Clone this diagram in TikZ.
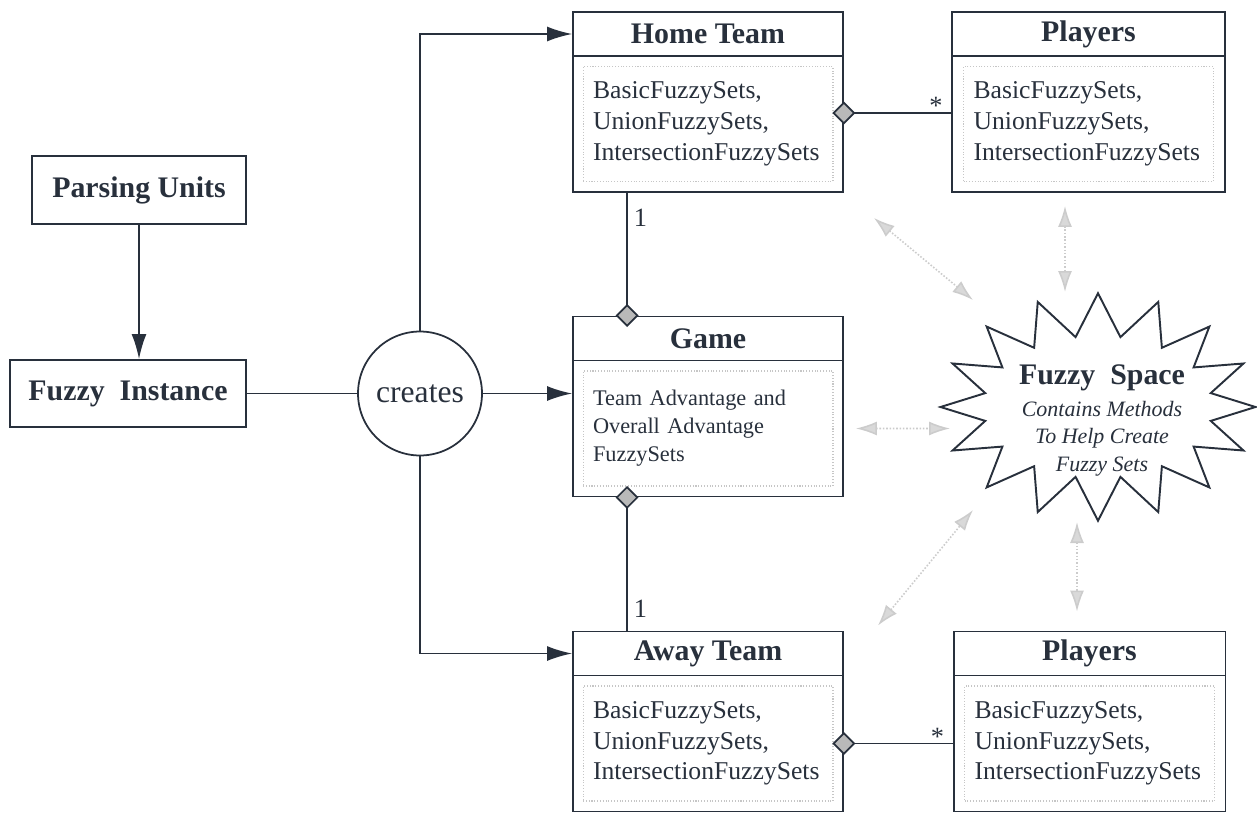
\documentclass[tikz,border=0pt]{standalone}
\usepackage{fontspec}
\setmainfont{Liberation Serif}
\usetikzlibrary{arrows.meta,positioning,shapes.symbols}
\definecolor{ink}{RGB}{40,48,60}

\tikzset{
  conn/.style={draw=ink, line width=1pt},
  flow/.style={conn, -{Latex[length=0.5cm,width=0.3cm]}},
  aggr/.style={conn, {Diamond[length=0.46cm,width=0.46cm,fill=gray!55]}-, shorten <=-0.23cm},
  aggrend/.style={conn, -{Diamond[length=0.46cm,width=0.46cm,fill=gray!55]}, shorten >=-0.23cm},
  fuzzylink/.style={draw=gray!40, line width=0.9pt, densely dotted,
    {Latex[length=0.42cm,width=0.28cm,fill=gray!30]}-{Latex[length=0.42cm,width=0.28cm,fill=gray!30]}},
  unitbox/.style={shape=rectangle, draw=ink, line width=1.1pt, text=ink, font=\bfseries\fontsize{17}{20}\selectfont},
  classhead/.style={shape=rectangle, draw=ink, line width=1.1pt, minimum height=0.88cm, text=ink, font=\bfseries\fontsize{17}{20}\selectfont},
  classbody/.style={shape=rectangle, draw=ink, line width=1.1pt, minimum height=2.72cm},
  attrbox/.style={shape=rectangle, draw=gray!45, densely dotted, line width=0.6pt, minimum width=5cm, minimum height=2.3cm,
    text width=4.6cm, inner xsep=0.2cm, align=left, text=ink, font=\fontsize{14.6}{17.5}\selectfont},
  mult/.style={text=ink, font=\fontsize{15}{18}\selectfont},
  burst/.style={shape=starburst, draw=ink, line width=1.1pt, starburst points=16, starburst point height=0.85cm,
    random starburst=0, minimum width=6.3cm, minimum height=4.55cm, inner sep=0pt}
}

\begin{document}
\begin{tikzpicture}[x=0.02cm, y=-0.02cm]
\useasboundingbox (0,0) rectangle (1257,821);
%%%%%%%%%%%%%%%%%%%%%%%%%%%%%%%%%%%%%%%%%%% HELP LINES
%\draw[help lines] (0,0) grid[step=50] (1257,821);

%%%%%%%%%%%%%%%%%%%%%%%%%%%%%%%%%%%%%%%%%%% left side
\node[unitbox, minimum width=4.28cm, minimum height=1.36cm](parsing) at (139,190){Parsing Units};
\node[unitbox, minimum width=4.72cm, minimum height=1.34cm](instance) at (128,393.5){Fuzzy\ \ Instance};
\node[shape=circle, draw=ink, line width=1pt, minimum size=2.48cm, inner sep=0pt, text=ink,
  font=\fontsize{18}{20}\selectfont](creates) at (420,393.5){creates};

%%%%%%%%%%%%%%%%%%%%%%%%%%%%%%%%%%%%%%%%%%% classes
\node[classhead, minimum width=5.4cm](homehead) at (708,34){Home Team};
\node[classbody, minimum width=5.4cm, below=-1.1pt of homehead](homebody){};
\node[attrbox](homeattr) at (homebody){BasicFuzzySets,\\UnionFuzzySets,\\IntersectionFuzzySets};

\node[classhead, minimum width=5.46cm](p1head) at (1088.5,34){Players};
\node[classbody, minimum width=5.46cm, below=-1.1pt of p1head](p1body){};
\node[attrbox](p1attr) at (p1body){BasicFuzzySets,\\UnionFuzzySets,\\IntersectionFuzzySets};

\node[classhead, minimum width=5.4cm](gamehead) at (708,338.5){Game};
\node[classbody, minimum width=5.4cm, below=-1.1pt of gamehead](gamebody){};
\node[attrbox, font=\fontsize{12.7}{16}\selectfont](gameattr) at (gamebody){Team Advantage and\\Overall Advantage\\FuzzySets\\[4pt]};

\node[classhead, minimum width=5.4cm](awayhead) at (708,653.5){Away Team};
\node[classbody, minimum width=5.4cm, below=-1.1pt of awayhead](awaybody){};
\node[attrbox](awayattr) at (awaybody){BasicFuzzySets,\\UnionFuzzySets,\\IntersectionFuzzySets};

\node[classhead, minimum width=5.44cm](p2head) at (1089.5,653.5){Players};
\node[classbody, minimum width=5.44cm, below=-1.1pt of p2head](p2body){};
\node[attrbox](p2attr) at (p2body){BasicFuzzySets,\\UnionFuzzySets,\\IntersectionFuzzySets};

%%%%% fuzzy space
\node[burst](fuzzy) at (1098,407){};
\node[align=center, text=ink, font=\itshape\fontsize{12.5}{15.5}\selectfont](fuzzytext) at (1102,420)
  {{\upshape\bfseries\fontsize{17}{20}\selectfont Fuzzy\ \ Space}\\[3pt]Contains Methods\\To Help Create\\Fuzzy Sets};

%%%%%%%%%%%%%%%%%%%%%%%%%%%%%%%%%%%%%%%%%%% connectors
\draw[flow] (parsing) -- (parsing |- instance.north);
\draw[conn] (instance) -- (creates);
\draw[flow] (creates.north) |- (homehead.west);
\draw[flow] (creates.east) -- (creates.east -| gamebody.west);
\draw[flow] (creates.south) |- (awayhead.west);

\draw[aggr] ([yshift=0.22cm]homebody.east) -- node[mult, pos=0.86, anchor=base, yshift=-1pt](star1){*} ([yshift=0.22cm]p1body.west);
\draw[aggrend] ([xshift=1.1cm]homebody.south west) -- node[mult, pos=0.2, right](one1){1} ([xshift=1.1cm]gamehead.north west);
\draw[aggr] ([xshift=1.1cm]gamebody.south west) -- node[mult, pos=0.84, right](one2){1} ([xshift=1.1cm]awayhead.north west);
\draw[aggr] (awaybody.east) -- node[mult, pos=0.86, anchor=base, yshift=-1pt](star2){*} (p2body.west);

%%%%% links to the fuzzy space
\coordinate (fsa) at (973,300);
\coordinate (fsb) at (1065,292);
\coordinate (fsc) at (950,428.5);
\coordinate (fsd) at (973,510);
\coordinate (fse) at (1077,522);
\draw[fuzzylink] ([xshift=0.6cm,yshift=-0.5cm]homebody.south east) -- (fsa);
\draw[fuzzylink, shorten <=0.26cm] (p1body.south -| fsb) -- (fsb);
\draw[fuzzylink, shorten <=0.24cm] (gamebody.east) -- (fsc);
\draw[fuzzylink] ([xshift=0.68cm,yshift=0.1cm]awayhead.north east) -- (fsd);
\draw[fuzzylink, shorten >=0.38cm] (fse) -- (p2head.north -| fse);
\end{tikzpicture}
\end{document}
